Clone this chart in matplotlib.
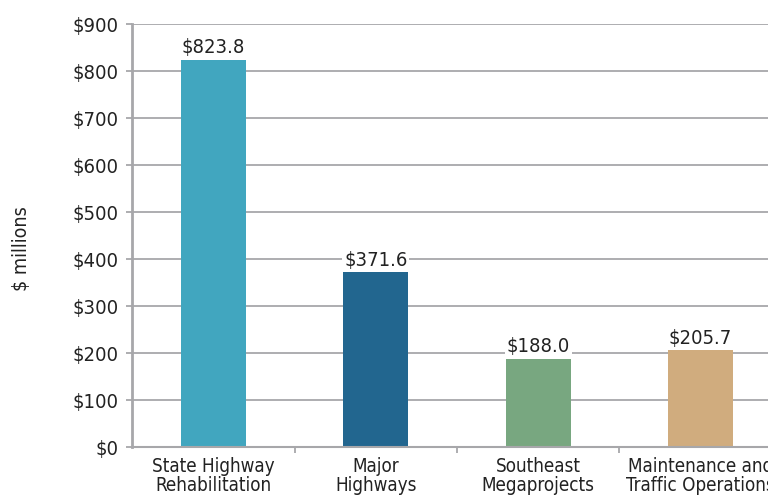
import matplotlib as mpl
import matplotlib.pyplot as plt

mpl.use('Agg')

categorias = ["State Highway\nRehabilitation", "Major\nHighways",
              "Southeast\nMegaprojects", "Maintenance and\nTraffic Operations"]
valores = [823.8, 371.6, 188.0, 205.7]
rotulos = ["$823.8", "$371.6", "$188.0", "$205.7"]
cores = ["#41a6bf", "#22668f", "#78a780", "#d0ac7e"]
yticks = [0, 100, 200, 300, 400, 500, 600, 700, 800, 900]

plt.rcParams['font.family'] = ['DejaVu Sans']
plt.rcParams['font.stretch'] = 'condensed'
cinza = "#a7a7aa"
texto = "#222222"

fig = plt.figure(figsize=(7.68, 4.98), dpi=100)
ax = fig.add_axes([0.172, 0.1024, 0.846, 0.8494])

pos = list(range(len(valores)))
ax.bar(pos, valores, width=0.4, color=cores, zorder=2)
for p, v, r in zip(pos, valores, rotulos):
    ax.annotate(r, (p, v), xytext=(0, 2), textcoords='offset points',
                ha='center', va='bottom', fontsize=14.5, color=texto, zorder=3,
                bbox=dict(boxstyle='square,pad=0.1', fc='white', ec='none'))

ax.set_xlim(-0.5, 3.5)
ax.set_ylim(0, 900)
ax.set_yticks(yticks)
ax.set_yticklabels(["${}".format(t) for t in yticks], fontsize=14.5, color=texto)
ax.yaxis.grid(True, color=cinza, linewidth=1.3, zorder=0)
ax.set_axisbelow(True)

ax.set_xticks(pos)
ax.set_xticklabels(categorias, fontsize=13.5, color=texto, linespacing=1.0)
ax.set_xticks([0.5, 1.5, 2.5], minor=True)
ax.tick_params(axis='x', which='major', length=0, pad=7)
ax.tick_params(axis='x', which='minor', length=4, color=cinza, width=1.3)
ax.tick_params(axis='y', length=4, color=cinza, width=1.3, pad=6)

for s in ['top', 'right']:
    ax.spines[s].set_visible(False)
ax.spines['left'].set_color(cinza)
ax.spines['left'].set_linewidth(2)
ax.spines['bottom'].set_color(cinza)
ax.spines['bottom'].set_linewidth(1.5)

fig.text(0.028, 0.5, "$ millions", rotation=90, ha='center', va='center',
         fontsize=14, color=texto)

fig.savefig("out.png", dpi=100)
